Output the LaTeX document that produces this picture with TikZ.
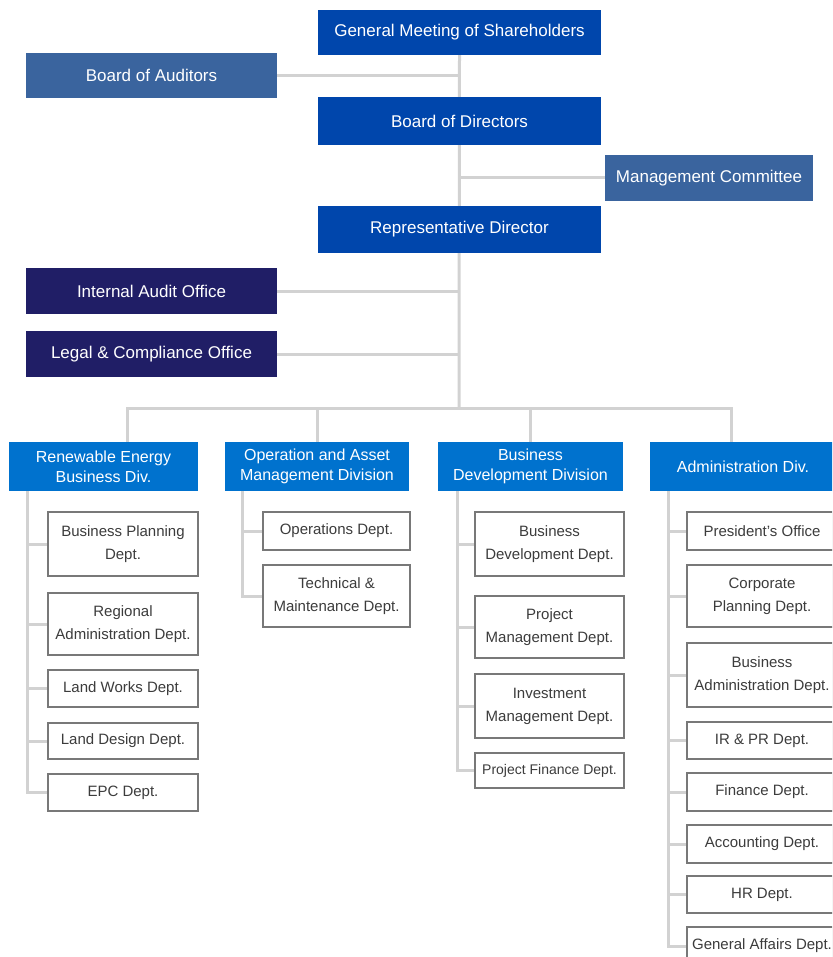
\documentclass[tikz,border=0pt]{standalone}
\usepackage{fontspec}
\setmainfont{Liberation Sans}
\usetikzlibrary{backgrounds,shadows,calc}
\definecolor{topblue}{RGB}{0,70,172}
\definecolor{sideblue}{RGB}{58,100,158}
\definecolor{navyblue}{RGB}{32,30,102}
\definecolor{divblue}{RGB}{0,114,206}
\definecolor{linegray}{RGB}{210,210,210}
\definecolor{deptborder}{RGB}{120,120,120}
\definecolor{depttext}{RGB}{60,60,60}
\begin{document}
\begin{tikzpicture}[x=1pt,y=-1pt,
  box/.style={rectangle, inner sep=0pt, align=center, text=white},
  topbox/.style={box, fill=topblue, minimum width=283pt, font=\fontsize{17}{20}\selectfont},
  sidebox/.style={box, fill=sideblue, font=\fontsize{17}{20}\selectfont},
  officebox/.style={box, fill=navyblue, minimum width=251pt, minimum height=46pt, font=\fontsize{17}{20}\selectfont},
  divbox/.style={box, fill=divblue, minimum height=49pt, font=\fontsize{16}{20}\selectfont},
  dept/.style={rectangle, inner sep=0pt, align=center, draw=deptborder, line width=1.3pt, fill=white, text=depttext,
    font=\fontsize{15}{23}\selectfont,
    drop shadow={shadow xshift=0.8pt, shadow yshift=-1.2pt, fill=gray!70, opacity=1}},
  conn/.style={draw=linegray, line width=3pt}
]
\useasboundingbox (0,0) rectangle (832,957);
\clip (0,0) rectangle (832,957);

% top level
\node[topbox, minimum height=45pt] (gms) at (459.5,32.5) {General Meeting of Shareholders};
\node[sidebox, minimum width=251pt, minimum height=45pt] (boa) at (151.5,75.5) {Board of Auditors};
\node[topbox, minimum height=48pt] (bod) at (459.5,121) {Board of Directors};
\node[sidebox, minimum width=208pt, minimum height=46pt] (mc) at (709,178) {Management Committee};
\node[topbox, minimum height=47pt] (rd) at (459.5,229.5) {Representative Director};
\node[officebox] (iao) at (151.5,291) {Internal Audit Office};
\node[officebox] (lco) at (151.5,354) {Legal \& Compliance Office};

% divisions
\node[divbox, minimum width=189pt] (red) at (103.5,466.5) {Renewable Energy\\Business Div.};
\node[divbox, minimum width=184pt] (oam) at (317,466.5) {Operation and Asset\\Management Division};
\node[divbox, minimum width=185pt] (bdv) at (530.5,466.5) {Business\\Development Division};
\node[divbox, minimum width=186pt] (adm) at (743,466.5) {Administration Div.};

% column 1
\node[dept, minimum width=150pt, minimum height=64pt] (bpd) at (123,544) {Business Planning\\Dept.};
\node[dept, minimum width=150pt, minimum height=62pt] (rad) at (123,624) {Regional\\Administration Dept.};
\node[dept, minimum width=150pt, minimum height=37pt] (lwd) at (123,688.5) {Land Works Dept.};
\node[dept, minimum width=150pt, minimum height=36pt] (ldd) at (123,741) {Land Design Dept.};
\node[dept, minimum width=150pt, minimum height=37pt] (epc) at (123,792.5) {EPC Dept.};

% column 2
\node[dept, minimum width=147pt, minimum height=38pt] (ops) at (336.5,531) {Operations Dept.};
\node[dept, minimum width=147pt, minimum height=62pt] (tmd) at (336.5,596) {Technical \&\\Maintenance Dept.};

% column 3
\node[dept, minimum width=149pt, minimum height=64pt] (bdd) at (549.5,544) {Business\\Development Dept.};
\node[dept, minimum width=149pt, minimum height=62pt] (pmd) at (549.5,627) {Project\\Management Dept.};
\node[dept, minimum width=149pt, minimum height=64pt] (imd) at (549.5,706) {Investment\\Management Dept.};
\node[dept, minimum width=149pt, minimum height=35pt, font=\fontsize{14}{20}\selectfont] (pfd) at (549.5,770.5) {Project Finance Dept.};

% column 4
\node[dept, minimum width=150pt, minimum height=38pt] (pro) at (762,531) {President's Office};
\node[dept, minimum width=150pt, minimum height=62pt] (cpd) at (762,596) {Corporate\\Planning Dept.};
\node[dept, minimum width=150pt, minimum height=64pt] (bad) at (762,675) {Business\\Administration Dept.};
\node[dept, minimum width=150pt, minimum height=37pt] (irp) at (762,740.5) {IR \& PR Dept.};
\node[dept, minimum width=150pt, minimum height=38pt] (fin) at (762,792) {Finance Dept.};
\node[dept, minimum width=150pt, minimum height=38pt] (acc) at (762,844) {Accounting Dept.};
\node[dept, minimum width=150pt, minimum height=37pt] (hrd) at (762,894.5) {HR Dept.};
\node[dept, minimum width=150pt, minimum height=38pt] (gad) at (762,946) {General Affairs Dept.};

% coordinates
\coordinate (bus) at (459,408);
\coordinate (redtop) at ($(red.north west)+(119,0)$);
\coordinate (oamtop) at (oam.north);
\coordinate (bdvtop) at (bdv.north);
\coordinate (admtop) at ($(adm.north west)+(82,0)$);
\coordinate (c1) at ($(red.south west)+(19,0)$);
\coordinate (c2) at ($(oam.south west)+(18,0)$);
\coordinate (c3) at ($(bdv.south west)+(20,0)$);
\coordinate (c4) at ($(adm.south west)+(19,0)$);

\begin{scope}[on background layer]
  \draw[conn] (gms.south) -- (bus);
  \draw[conn] (boa.east) -- (boa.east -| gms.south);
  \draw[conn] (mc.west) -- (mc.west -| gms.south);
  \draw[conn] (iao.east) -- (iao.east -| gms.south);
  \draw[conn] (lco.east) -- (lco.east -| gms.south);
  \draw[conn] (redtop) |- (bus);
  \draw[conn] (oamtop) |- (bus);
  \draw[conn] (bdvtop) |- (bus);
  \draw[conn] (admtop) |- (bus);
  \foreach \d in {bpd,rad,lwd,ldd,epc} \draw[conn] (c1) |- (\d.west);
  \foreach \d in {ops,tmd} \draw[conn] (c2) |- (\d.west);
  \foreach \d in {bdd,pmd,imd,pfd} \draw[conn] (c3) |- (\d.west);
  \foreach \d in {pro,cpd,bad,irp,fin,acc,hrd,gad} \draw[conn] (c4) |- (\d.west);
\end{scope}
\end{tikzpicture}
\end{document}
